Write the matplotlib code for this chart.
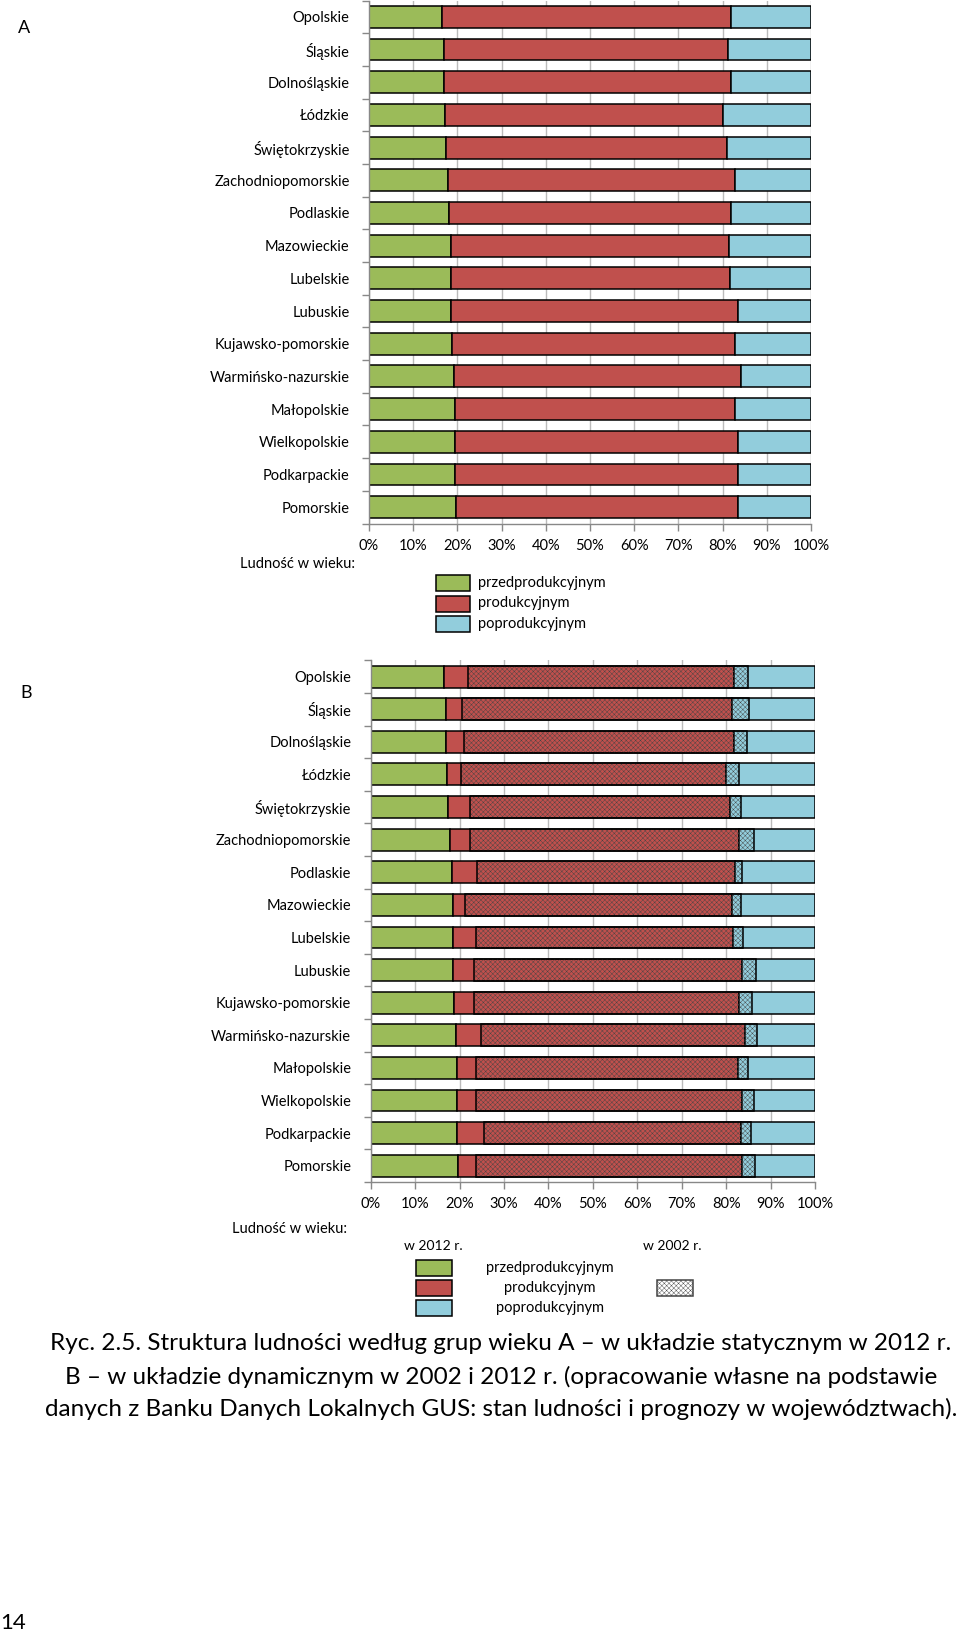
import matplotlib.pyplot as plt
import numpy as np
from matplotlib.patches import Rectangle

plt.rcParams['font.family'] = ['Lato', 'DejaVu Sans']
plt.rcParams['hatch.linewidth'] = 0.3

regions = ['Opolskie', 'Śląskie', 'Dolnośląskie', 'Łódzkie', 'Świętokrzyskie',
           'Zachodniopomorskie', 'Podlaskie', 'Mazowieckie', 'Lubelskie', 'Lubuskie',
           'Kujawsko-pomorskie', 'Warmińsko-nazurskie', 'Małopolskie', 'Wielkopolskie',
           'Podkarpackie', 'Pomorskie']

# udzial grup wieku w 2012 r. (%)
pre_2012 = [16.6, 16.9, 16.9, 17.1, 17.5, 17.8, 18.2, 18.6, 18.6, 18.6, 18.7, 19.2, 19.4, 19.4, 19.4, 19.6]
prod_2012 = [65.2, 64.4, 64.9, 62.9, 63.4, 65.1, 63.7, 62.8, 63.0, 64.9, 64.2, 65.0, 63.3, 64.1, 64.0, 63.9]
post_2012 = [18.2, 18.7, 18.2, 20.0, 19.1, 17.1, 18.1, 18.6, 18.4, 16.5, 17.1, 15.8, 17.3, 16.5, 16.6, 16.5]

# udzial grup wieku w 2002 r. (%)
pre_2002 = [22.0, 20.6, 20.9, 20.3, 22.4, 22.4, 23.9, 21.3, 23.6, 23.3, 23.3, 24.8, 23.8, 23.6, 25.5, 23.6]
prod_2002 = [63.0, 64.5, 63.8, 62.7, 60.9, 63.9, 59.7, 62.0, 60.1, 63.4, 62.6, 62.2, 61.1, 62.7, 60.0, 63.0]

groups = ['przedprodukcyjnym', 'produkcyjnym', 'poprodukcyjnym']
colors = ['#9BBB59', '#C0504D', '#92CDDC']
ticks = np.arange(0, 101, 10)
tick_labels = [f'{t}%' for t in ticks]

W, H = 960, 1638
fig = plt.figure(figsize=(W / 100, H / 100), dpi=100)


def fx(x):
    return x / W


def fy(y):
    return 1 - y / H


def drawBars(ax):
    y = np.arange(len(regions))
    left = np.zeros(len(regions))
    for vals, c in zip([pre_2012, prod_2012, post_2012], colors):
        ax.barh(y, vals, left=left, height=0.67, color=c, edgecolor='black', linewidth=1.1, zorder=2)
        left = left + np.array(vals)
    ax.set_xlim(0, 100)
    ax.set_ylim(len(regions) - 0.5, -0.5)
    ax.set_xticks(ticks)
    ax.set_xticklabels(tick_labels, fontsize=10.5)
    ax.set_yticks(y)
    ax.set_yticklabels(regions, fontsize=10.5)
    ax.set_yticks(np.arange(len(regions) + 1) - 0.5, minor=True)
    ax.tick_params(axis='y', which='major', length=0, pad=14)
    ax.tick_params(axis='y', which='minor', length=5, color='#888888', width=1)
    ax.tick_params(axis='x', length=5, color='#888888', width=1, pad=6)
    ax.grid(axis='x', color='#BBBBBB', linewidth=1, zorder=0)
    ax.set_axisbelow(True)
    for s in ['top', 'right']:
        ax.spines[s].set_visible(False)
    for s in ['left', 'bottom']:
        ax.spines[s].set_color('#888888')
        ax.spines[s].set_linewidth(1)
    return y


# panel A
axA = fig.add_axes([fx(369), fy(523.5), fx(442), 523 / H])
drawBars(axA)
fig.text(fx(24), fy(28), 'A', fontsize=13, ha='center', va='center')
fig.text(fx(240), fy(564), 'Ludność w wieku:', fontsize=10.5, ha='left', va='center')
for i, (g, c) in enumerate(zip(groups, colors)):
    yc = 583 + i * 20.5
    fig.add_artist(Rectangle((fx(436), fy(yc + 8)), fx(34), 16 / H, facecolor=c,
                             edgecolor='black', linewidth=1.1, transform=fig.transFigure))
    fig.text(fx(478), fy(yc), g, fontsize=10.5, ha='left', va='center')

# panel B
axB = fig.add_axes([fx(370.7), fy(1182), fx(444.3), 521.7 / H])
y = drawBars(axB)
axB.barh(y, prod_2002, left=pre_2002, height=0.67, fill=False, hatch='xxxxxxx',
         edgecolor='#444444', linewidth=0, zorder=3)
axB.barh(y, prod_2002, left=pre_2002, height=0.67, fill=False,
         edgecolor='black', linewidth=1.1, zorder=4)
fig.text(fx(26), fy(693), 'B', fontsize=13, ha='center', va='center')
fig.text(fx(232), fy(1229), 'Ludność w wieku:', fontsize=10.5, ha='left', va='center')
fig.text(fx(433), fy(1246), 'w 2012 r.', fontsize=10, ha='center', va='center')
fig.text(fx(672), fy(1246), 'w 2002 r.', fontsize=10, ha='center', va='center')
for i, (g, c) in enumerate(zip(groups, colors)):
    yc = 1268 + i * 20
    fig.add_artist(Rectangle((fx(416), fy(yc + 8)), fx(36), 16 / H, facecolor=c,
                             edgecolor='black', linewidth=1.1, transform=fig.transFigure))
    fig.text(fx(550), fy(yc), g, fontsize=10.5, ha='center', va='center')
fig.add_artist(Rectangle((fx(657), fy(1296)), fx(36), 16 / H, facecolor='white', hatch='xxxxxxx',
                         edgecolor='#444444', linewidth=1.1, transform=fig.transFigure))

caption = ['Ryc. 2.5. Struktura ludności według grup wieku A – w układzie statycznym w 2012 r.',
           'B – w układzie dynamicznym w 2002 i 2012 r. (opracowanie własne na podstawie',
           'danych z Banku Danych Lokalnych GUS: stan ludności i prognozy w województwach).']
for i, line in enumerate(caption):
    fig.text(fx(501), fy(1344 + i * 32.5), line, fontsize=17.5, ha='center', va='center')
fig.text(fx(13), fy(1623), '14', fontsize=16, ha='center', va='center')

fig.savefig('out.png', dpi=100)
